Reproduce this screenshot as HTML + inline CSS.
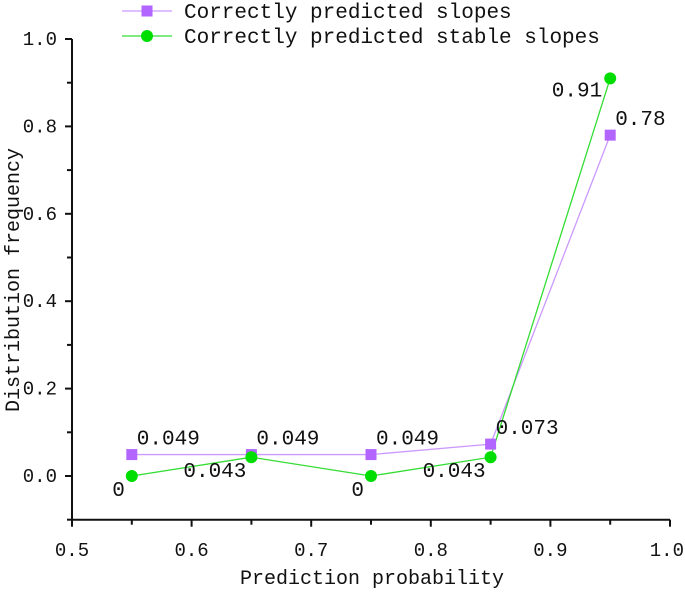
<!DOCTYPE html>
<html><head><meta charset="utf-8"><style>
html,body{margin:0;padding:0;background:#fff}
svg text{font-family:"Liberation Mono","Noto Serif CJK SC",monospace;fill:#111}
</style></head><body>
<svg id="chart" width="685" height="590" viewBox="0 0 685 590" xmlns="http://www.w3.org/2000/svg"></svg>
<script>
const categories=[0.55,0.65,0.75,0.85,0.95];
const slopesValues=[0.049,0.049,0.049,0.073,0.78];
const stableValues=[0,0.043,0,0.043,0.91];
const slopesLabels=["0.049","0.049","0.049","0.073","0.78"];
const stableLabels=["0","0.043","0","0.043","0.91"];
const xTicks=[0.5,0.6,0.7,0.8,0.9,1.0];
const xTickLabels=["0.5","0.6","0.7","0.8","0.9","1.0"];
const yTicks=[0,0.2,0.4,0.6,0.8,1.0];
const yTickLabels=["0.0","0.2","0.4","0.6","0.8","1.0"];

const svg=document.getElementById('chart');
const NS='http://www.w3.org/2000/svg';
const X0=72,X1=670,Y0=476,YT=39;
const xs=v=>X0+(v-0.5)/0.5*(X1-X0);
const ys=v=>Y0-v*(Y0-YT);
function mk(t,a,p){const e=document.createElementNS(NS,t);for(const k in a)e.setAttribute(k,a[k]);(p||svg).appendChild(e);return e;}

const ax=mk('path',{d:`M${X0} ${YT}V${ys(-0.1)}H${X1}`,fill:'none',stroke:'#111','stroke-width':2});


for(let i=0;i<=10;i++){const v=0.5+i*0.05;const x=xs(v);
 const t=mk('line',{x1:x,x2:x,y1:ys(-0.1),y2:ys(-0.1)+(i%2?5:7),stroke:'#111','stroke-width':2});
 
 }
xTicks.forEach((v,i)=>{
 const last=i===xTicks.length-1;
 const t=mk('text',{x:last?684:xs(v),y:556,'text-anchor':last?'end':'middle','font-size':19});t.textContent=xTickLabels[i];
 
 });
for(let i=-1;i<=10;i++){const y=ys(i/10);
 const t=mk('line',{x1:X0,x2:X0-(i%2?5:7),y1:y,y2:y,stroke:'#111','stroke-width':2});
 
 }
yTicks.forEach((v,i)=>{const t=mk('text',{x:57,y:ys(v)+6,'text-anchor':'end','font-size':19});t.textContent=yTickLabels[i];
 
 });
const xt=mk('text',{x:372,y:584,'text-anchor':'middle','font-size':20});xt.textContent='Prediction probability';


const yt=mk('text',{x:0,y:0,'text-anchor':'middle','font-size':20,transform:'translate(19 280) rotate(-90)'});yt.textContent='Distribution frequency';



const pc='#b266ff',gc='#00dd00';
const l1=mk('polyline',{points:categories.map((c,i)=>xs(c)+','+ys(slopesValues[i])).join(' '),fill:'none',stroke:'#cc99ff','stroke-width':1.3});


const l2=mk('polyline',{points:categories.map((c,i)=>xs(c)+','+ys(stableValues[i])).join(' '),fill:'none',stroke:'#33dd33','stroke-width':1.3});


categories.forEach((c,i)=>{
 const s=mk('rect',{x:xs(c)-5.5,y:ys(slopesValues[i])-5.5,width:11,height:11,fill:pc});
 
 
 const g=mk('circle',{cx:xs(c),cy:ys(stableValues[i]),r:6,fill:gc});
 
 
 const t1=mk('text',{x:xs(c)+5,y:ys(slopesValues[i])-10,'font-size':21});
 t1.textContent=slopesLabels[i];
 
 
 let a;
 if(stableValues[i]===0)a={x:xs(c)-7,y:ys(stableValues[i])+20,'text-anchor':'end'};
 else if(i===categories.length-1)a={x:xs(c)-8,y:ys(stableValues[i])+18,'text-anchor':'end'};
 else a={x:xs(c)-5,y:ys(stableValues[i])+20,'text-anchor':'end'};
 const t2=mk('text',Object.assign(a,{'font-size':21}));
 t2.textContent=stableLabels[i];
 
 
});

const lg=mk('g',{});


[[11,pc,'#cc99ff','Correctly predicted slopes','rect'],[36,gc,'#33dd33','Correctly predicted stable slopes','circle']].forEach(d=>{
 const g=mk('g',{},lg);
 
 
 mk('line',{x1:122,x2:172,y1:d[0],y2:d[0],stroke:d[2],'stroke-width':1.3},g);
 if(d[4]==='rect')mk('rect',{x:141.5,y:d[0]-5.5,width:11,height:11,fill:d[1]},g);
 else mk('circle',{cx:147,cy:d[0],r:6,fill:d[1]},g);
 const t=mk('text',{x:184,y:d[0]+7,'font-size':21},g);t.textContent=d[3];
});
</script>
</body></html>
